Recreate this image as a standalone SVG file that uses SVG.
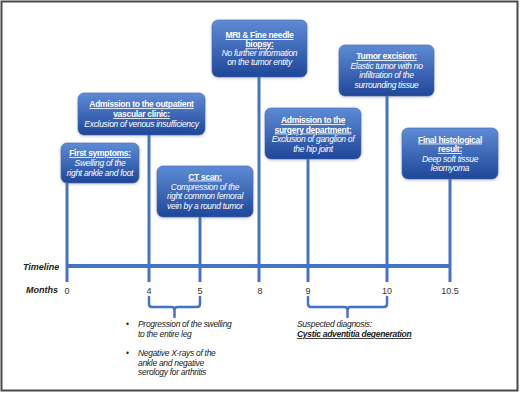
<svg xmlns="http://www.w3.org/2000/svg" width="520" height="393" viewBox="0 0 520 393">
<defs>
<linearGradient id="boxg" x1="0" y1="0" x2="0" y2="1">
<stop offset="0" stop-color="#5e8bd5"/>
<stop offset="1" stop-color="#1f4798"/>
</linearGradient>
<filter id="sh" x="-20%" y="-20%" width="140%" height="140%">
<feDropShadow dx="0" dy="1" stdDeviation="1.5" flood-color="#7f7f7f" flood-opacity="0.45"/>
</filter>
</defs>
<style>
.box{fill:url(#boxg);stroke:#3f68b5;stroke-width:0.6;filter:url(#sh)}
.ln{stroke:#4472c4;stroke-width:3;fill:none}
.br{stroke:#4472c4;stroke-width:2.5;fill:none;stroke-linecap:round}
.t{font-family:"Liberation Sans",Arial,sans-serif;font-size:8.5px;fill:#ffffff;text-anchor:middle;letter-spacing:-0.3px}
.h{font-weight:bold;text-decoration:underline}
.b{font-style:italic}
.lab{font-family:"Liberation Sans",Arial,sans-serif;font-size:9px;font-weight:bold;font-style:italic;fill:#222}
.num{font-family:"Liberation Sans",Arial,sans-serif;font-size:9px;fill:#333;text-anchor:middle}
.note{font-family:"Liberation Sans",Arial,sans-serif;font-size:8.5px;font-style:italic;fill:#222;letter-spacing:-0.3px}
</style>
<rect x="1.5" y="1.5" width="516" height="389" fill="#ffffff" stroke="#4a4a4a" stroke-width="2"/>

<g id="connectors">
<line class="ln" x1="67" y1="266" x2="450" y2="266" style="stroke-width:4"/>
<line class="ln" x1="67" y1="183" x2="67" y2="282"/>
<line class="ln" x1="149" y1="135" x2="149" y2="282"/>
<line class="ln" x1="200" y1="217" x2="200" y2="282"/>
<line class="ln" x1="259" y1="77" x2="259" y2="282"/>
<line class="ln" x1="308" y1="159" x2="308" y2="282"/>
<line class="ln" x1="387" y1="96" x2="387" y2="282"/>
<line class="ln" x1="450" y1="179" x2="450" y2="282"/>
<path class="br" d="M149,297 V304 Q149,307 152,307 H171.5 Q174.5,307 174.5,310 V317 M174.5,310 Q174.5,307 177.5,307 H197 Q200,307 200,304 V297"/>
<path class="br" d="M308,297 V304 Q308,307 311,307 H344.5 Q347.5,307 347.5,310 V317 M347.5,310 Q347.5,307 350.5,307 H384 Q387,307 387,304 V297"/>
</g>

<g id="axis-labels">
<text class="lab" x="23" y="270">Timeline</text>
<text class="lab" x="26" y="293" style="font-weight:bold">Months</text>
<text class="num" x="67" y="294">0</text>
<text class="num" x="149" y="294">4</text>
<text class="num" x="200" y="294">5</text>
<text class="num" x="260" y="294">8</text>
<text class="num" x="308" y="294">9</text>
<text class="num" x="387" y="294">10</text>
<text class="num" x="450" y="294">10.5</text>
</g>

<g id="node-first-symptoms">
<rect class="box" x="61" y="143" width="78" height="40" rx="6"/>
<text class="t h" x="100" y="156">First symptoms:</text>
<text class="t b" x="100" y="166">Swelling of the</text>
<text class="t b" x="100" y="176">right ankle and foot</text>
</g>

<g id="node-outpatient">
<rect class="box" x="78" y="93" width="127" height="42" rx="6"/>
<text class="t h" x="141.5" y="107">Admission to the outpatient</text>
<text class="t h" x="141.5" y="117">vascular clinic:</text>
<text class="t b" x="141.5" y="126.5">Exclusion of venous insufficiency</text>
</g>

<g id="node-ct">
<rect class="box" x="157" y="166" width="96" height="51" rx="6"/>
<text class="t h" x="205" y="179.5">CT scan:</text>
<text class="t b" x="205" y="189.5">Compression of the</text>
<text class="t b" x="205" y="199">right common femoral</text>
<text class="t b" x="205" y="208.5">vein by a round tumor</text>
</g>

<g id="node-mri">
<rect class="box" x="212" y="20" width="95" height="57" rx="6"/>
<text class="t h" x="259.5" y="38">MRI &amp; Fine needle</text>
<text class="t h" x="259.5" y="47.3">biopsy:</text>
<text class="t b" x="259.5" y="56.3">No further information</text>
<text class="t b" x="259.5" y="65.3">on the tumor entity</text>
</g>

<g id="node-surgery">
<rect class="box" x="265" y="108" width="96" height="51" rx="6"/>
<text class="t h" x="313" y="123">Admission to the</text>
<text class="t h" x="313" y="132.5">surgery department:</text>
<text class="t b" x="313" y="142">Exclusion of ganglion of</text>
<text class="t b" x="313" y="151.5">the hip joint</text>
</g>

<g id="node-excision">
<rect class="box" x="339" y="45" width="95" height="51" rx="6"/>
<text class="t h" x="386.5" y="59">Tumor excision:</text>
<text class="t b" x="386.5" y="69">Elastic tumor with no</text>
<text class="t b" x="386.5" y="78">infiltration of the</text>
<text class="t b" x="386.5" y="87.5">surrounding tissue</text>
</g>

<g id="node-final">
<rect class="box" x="402" y="128" width="96" height="51" rx="6"/>
<text class="t h" x="450" y="142.5">Final histological</text>
<text class="t h" x="450" y="152">result:</text>
<text class="t b" x="450" y="161.5">Deep soft tissue</text>
<text class="t b" x="450" y="171">leiomyoma</text>
</g>

<g id="note-4-5">
<text class="note" x="126" y="327" style="font-style:normal">•</text>
<text class="note" x="138" y="327">Progression of the swelling</text>
<text class="note" x="138" y="337">to the entire leg</text>
<text class="note" x="126" y="356" style="font-style:normal">•</text>
<text class="note" x="138" y="356">Negative X-rays of the</text>
<text class="note" x="138" y="365.5">ankle and negative</text>
<text class="note" x="138" y="375">serology for arthritis</text>
</g>

<g id="note-9-10">
<text class="note" x="297" y="327">Suspected diagnosis:</text>
<text class="note" x="297" y="337" style="font-weight:bold;text-decoration:underline">Cystic adventitia degeneration</text>
</g>
</svg>
